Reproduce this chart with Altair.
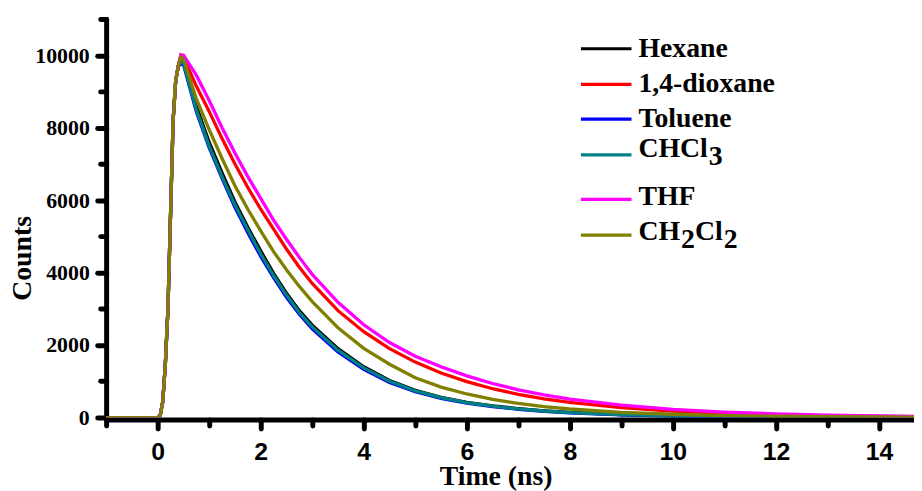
import altair as alt
import pandas as pd

# ---------------- data ----------------
series_names = ["Hexane", "1,4-dioxane", "Toluene", "CHCl3", "THF", "CH2Cl2"]
series_colors = ["#000000", "#ff0000", "#0000ff", "#008080", "#ff00ff", "#808000"]

# shared instrument-limited rise (ns, counts)
rise_t = [-1.0, 0.0, 0.05, 0.1, 0.15, 0.2, 0.25, 0.3, 0.35, 0.4]
rise_v = [0, 0, 60, 450, 1500, 3000, 5600, 8200, 9300, 9700]

peak_t = 0.45
peak_v = [9950, 10000, 9750, 9800, 10000, 9950]

decay_t = [0.5, 0.75, 1.0, 1.25, 1.5, 1.75, 2.0, 2.25, 2.5, 2.75, 3.0, 3.5, 4.0,
           4.5, 5.0, 5.5, 6.0, 6.5, 7.0, 7.5, 8.0, 9.0, 10.0, 11.0, 12.0, 13.0,
           14.0, 15.0]

hexane = [9900, 8600, 7600, 6750, 5950, 5250, 4600, 3980, 3430, 2950, 2550, 1900,
          1400, 1020, 750, 560, 420, 320, 245, 185, 140, 80, 45, 28, 16, 10, 6, 4]
dioxane = [9950, 9150, 8450, 7700, 7000, 6350, 5750, 5200, 4650, 4150, 3700, 2950,
           2370, 1900, 1530, 1230, 990, 795, 640, 515, 415, 270, 175, 112, 73, 47, 30, 20]
toluene = [9750, 8450, 7450, 6600, 5800, 5100, 4450, 3860, 3320, 2850, 2450, 1810,
           1330, 970, 710, 530, 395, 300, 228, 172, 130, 74, 42, 25, 15, 9, 5, 3]
chcl3 = [9800, 8500, 7500, 6650, 5870, 5180, 4520, 3920, 3380, 2900, 2500, 1860,
         1370, 1000, 735, 550, 412, 312, 238, 180, 136, 78, 44, 27, 16, 10, 6, 4]
thf = [10000, 9450, 8750, 8000, 7300, 6650, 6050, 5450, 4920, 4420, 3950, 3180,
       2560, 2070, 1690, 1400, 1150, 940, 765, 625, 510, 340, 225, 150, 100, 66, 44, 29]
ch2cl2 = [9900, 8800, 7950, 7150, 6400, 5750, 5150, 4580, 4080, 3620, 3200, 2480,
          1910, 1470, 1100, 840, 650, 500, 390, 300, 235, 145, 90, 55, 35, 22, 14, 9]

decays = [hexane, dioxane, toluene, chcl3, thf, ch2cl2]

x_ticks = list(range(-1, 15))
y_ticks = list(range(0, 11001, 1000))

# ---------------- build table ----------------
frames = []
for name, pk, dec in zip(series_names, peak_v, decays):
    t = rise_t + [peak_t] + decay_t
    v = rise_v + [pk] + dec
    frames.append(pd.DataFrame({"series": name, "t": t, "v": v}))

# ---------------- encodings ----------------
x_enc = alt.X(
    "t:Q",
    scale=alt.Scale(domain=[-1, 14.68], nice=False, zero=False),
    axis=alt.Axis(
        values=x_ticks,
        labelExpr="datum.value % 2 === 0 ? datum.label : ''",
        grid=False,
        offset=2,
        domainColor="black", domainWidth=5, domainCap="round",
        tickColor="black", tickWidth=5, tickCap="round",
        tickSize={"condition": {"test": "datum.value % 2 === 0", "value": 9}, "value": 6},
        labelFont="Liberation Sans", labelFontSize=25, labelFontWeight="bold",
        labelColor="black", labelPadding=11, labelFlush=False, labelOverlap=False,
        title="Time (ns)",
        titleFont="Liberation Serif", titleFontSize=28, titleFontWeight="bold",
        titleColor="black", titleX=393, titleY=66, titleAlign="center",
        titleBaseline="alphabetic",
    ),
)
y_enc = alt.Y(
    "v:Q",
    scale=alt.Scale(domain=[0, 11000], nice=False),
    axis=alt.Axis(
        values=y_ticks,
        labelExpr="datum.value % 2000 === 0 ? datum.label : ''",
        format="d",
        grid=False,
        domainColor="black", domainWidth=5, domainCap="round",
        tickColor="black", tickWidth=5, tickCap="round",
        tickSize={"condition": {"test": "datum.value % 2000 === 0", "value": 9}, "value": 6},
        labelFont="Liberation Serif", labelFontSize=22, labelFontWeight="bold",
        labelColor="black", labelPadding=8, labelFlush=False, labelOverlap=False,
        title="Counts",
        titleFont="Liberation Serif", titleFontSize=28, titleFontWeight="bold",
        titleColor="black", titleX=-84, titleY=241, titleAlign="center",
        titleBaseline="middle", titleAngle=-90,
    ),
)

layers = []
for df, col in zip(frames, series_colors):
    layers.append(
        alt.Chart(df).mark_line(color=col, strokeWidth=3.3, clip=True).encode(
            x=x_enc, y=y_enc, order="t:Q"
        )
    )

# ---------------- manual legend ----------------
one = pd.DataFrame({"k": [0]})
leg_line_x = (479, 530)
leg_text_x = 537
leg_rows_y = [30, 66, 101, 137, 182, 218]
font_kw = dict(font="Liberation Serif", fontSize=28, fontWeight="bold",
               align="left", baseline="middle", color="black")

for y, col in zip(leg_rows_y, series_colors):
    layers.append(
        alt.Chart(one).mark_rule(color=col, strokeWidth=3.2).encode(
            x=alt.value(leg_line_x[0]), x2=alt.value(leg_line_x[1]), y=alt.value(y)
        )
    )

text_pieces = [
    ("Hexane", leg_text_x, 30),
    ("1,4-dioxane", leg_text_x, 66),
    ("Toluene", leg_text_x, 101),
    ("CHCl", leg_text_x, 131),
    ("3", leg_text_x + 71, 139),
    ("THF", leg_text_x, 180),
    ("CH", leg_text_x, 215),
    ("2", leg_text_x + 43, 223),
    ("Cl", leg_text_x + 57, 215),
    ("2", leg_text_x + 86, 223),
]
for txt, x, y in text_pieces:
    layers.append(
        alt.Chart(one).mark_text(text=txt, **font_kw).encode(
            x=alt.value(x), y=alt.value(y)
        )
    )

chart = alt.layer(*layers).properties(
    width=815,
    height=402,
    autosize=alt.AutoSizeParams(type="none"),
    padding={"left": 99, "top": 9, "right": 0, "bottom": 72},
    background="white",
).configure_view(stroke=None)

chart.save("out.html", embed_options={"renderer": "svg", "actions": False})
